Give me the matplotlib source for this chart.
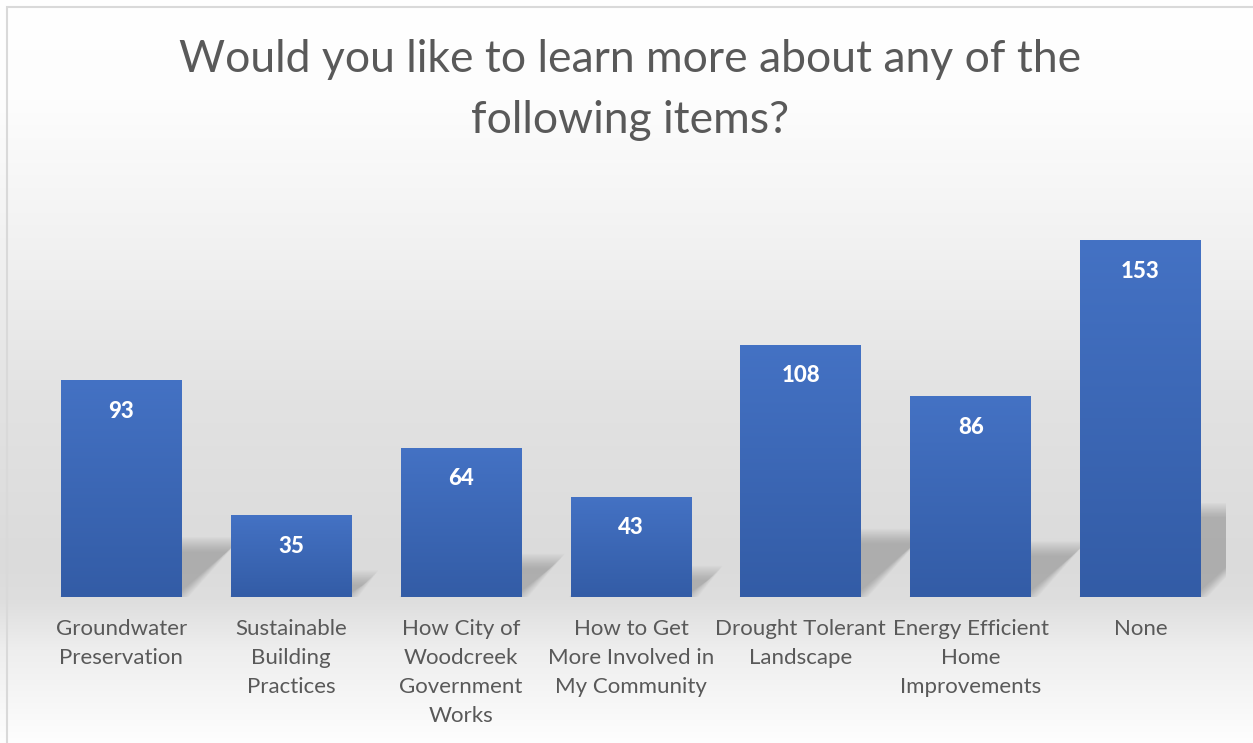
import numpy as np
import matplotlib
matplotlib.use("Agg")
import matplotlib.pyplot as plt
from matplotlib.patches import Polygon, Rectangle
from matplotlib.transforms import offset_copy

title = "Would you like to learn more about any of the\nfollowing items?"
categories = [
    "Groundwater\nPreservation",
    "Sustainable\nBuilding\nPractices",
    "How City of\nWoodcreek\nGovernment\nWorks",
    "How to Get\nMore Involved in\nMy Community",
    "Drought Tolerant\nLandscape",
    "Energy Efficient\nHome\nImprovements",
    "None",
]
values = [93, 35, 64, 43, 108, 86, 153]

plt.rcParams['font.family'] = ['Lato', 'DejaVu Sans']

W, H, DPI = 1253, 743, 100
fig = plt.figure(figsize=(W / DPI, H / DPI), dpi=DPI)

# background gradient
bg = fig.add_axes([0, 0, 1, 1], zorder=0)
bg.set_axis_off()
ys = np.arange(H)
stops_y = [0, 100, 250, 400, 560, 600, 650, 743]
stops_v = [255, 253, 241, 226, 219, 222, 238, 254]
col = np.interp(ys, stops_y, stops_v) / 255.0
img = np.repeat(col[:, None], 2, axis=1)
bg.imshow(np.dstack([img, img, img]), aspect='auto', extent=[0, 1, 0, 1],
          interpolation='bilinear')
bg.set_xlim(0, 1)
bg.set_ylim(0, 1)
# frame
bg.add_patch(Rectangle((6.5 / W, -0.1), 2, (H - 6.5) / H + 0.1,
                       transform=bg.transAxes, fill=False,
                       edgecolor='#d9d9d9', linewidth=1.5))

fig.text(630 / W, 1 - 90 / H, title, ha='center', va='center',
         fontsize=32, color='#595959', linespacing=1.58)

# main axes
left, right, base, top = 36.5, 1225.5, 597, 177
ax = fig.add_axes([left / W, 1 - base / H, (right - left) / W, (base - top) / H],
                  zorder=1)
ax.set_facecolor('none')
ax.set_xlim(-0.5, len(values) - 0.5)
ax.set_ylim(0, 180)
for s in ax.spines.values():
    s.set_visible(False)
ax.set_yticks([])

x = np.arange(len(values))
bw = 0.712
px_per_x = (right - left) / len(values)
px_per_y = (base - top) / 180.0

# shadows
for xi, v in zip(x, values):
    h = 0.245 * v                       # data units
    d = h * px_per_y / px_per_x        # same pixel length as height
    x0, x1 = xi - bw / 2, xi + bw / 2
    n = 12
    for k in range(n):
        e = (k - n / 2) * 1.3  # px expansion
        ex = e / px_per_x
        ey = e / px_per_y
        poly = Polygon([(x0 - ex * 0.2, 0), (x1 + ex, 0),
                        (x1 + d + ex, h + ey), (x0 + d - ex, h + ey)],
                       closed=True, facecolor='#6e6e6e', edgecolor='none',
                       alpha=0.038, zorder=1)
        ax.add_patch(poly)

bars = ax.bar(x, values, width=bw, color='#3f6cbd', zorder=2)

# gradient for bars
grad = np.linspace(0, 1, 256)[:, None]
c_top = np.array([0x44, 0x72, 0xC4]) / 255.0
c_bot = np.array([0x33, 0x5C, 0xA6]) / 255.0
gimg = (c_top[None, None, :] * (1 - grad[..., None]) + c_bot[None, None, :] * grad[..., None])
for b in bars:
    bx, by = b.get_x(), b.get_y()
    bwid, bh = b.get_width(), b.get_height()
    im = ax.imshow(gimg, extent=[bx, bx + bwid, by, by + bh], aspect='auto',
                   zorder=3, interpolation='bilinear')
    im.set_clip_path(b)
ax.set_xlim(-0.5, len(values) - 0.5)
ax.set_ylim(0, 180)

# value labels
for xi, v in zip(x, values):
    tr = offset_copy(ax.transData, fig=fig, x=0, y=-31, units='dots')
    ax.text(xi, v, str(v), transform=tr, ha='center', va='center',
            color='white', fontsize=16, fontweight=900, zorder=4)

ax.set_xticks(x)
ax.set_xticklabels(categories, fontsize=16, color='#595959', linespacing=1.55)
ax.tick_params(axis='x', length=0, pad=16)

fig.savefig('out.png', dpi=DPI)
